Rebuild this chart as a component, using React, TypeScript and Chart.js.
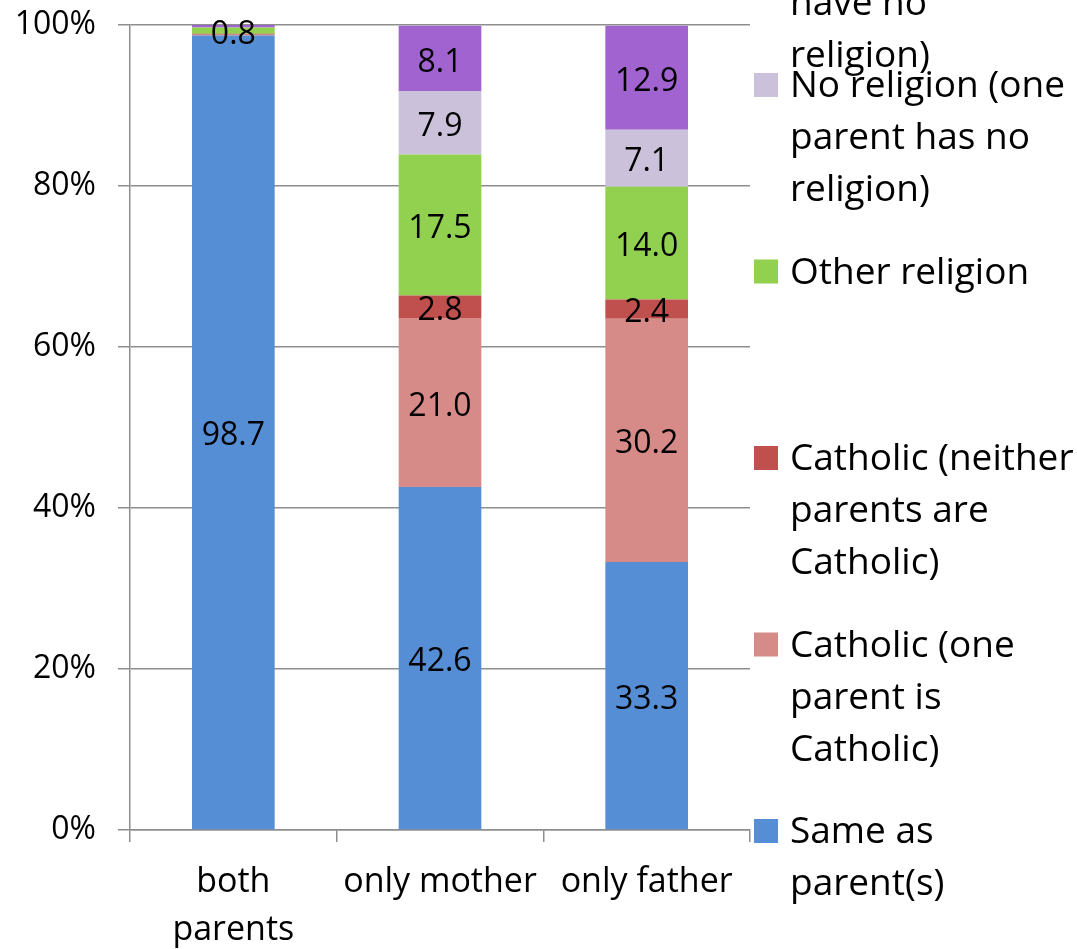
import React, { useEffect, useRef } from "react";
import { Chart, registerables } from "chart.js";

Chart.register(...registerables);

const categories: (string | string[])[] = [["both", "parents"], "only mother", "only father"];

const seriesNames = [
  "Same as parent(s)",
  "Catholic (one parent is Catholic)",
  "Catholic (neither parents are Catholic)",
  "Other religion",
  "No religion (one parent has no religion)",
  "No religion (both parents have no religion)",
];

const legendLines: string[][] = [
  ["Same as", "parent(s)"],
  ["Catholic (one", "parent is", "Catholic)"],
  ["Catholic (neither", "parents are", "Catholic)"],
  ["Other religion"],
  ["No religion (one", "parent has no", "religion)"],
  ["No religion", "(both parents", "have no", "religion)"],
];

const sameAsParents = [98.7, 42.6, 33.3];
const catholicOne = [0.1, 21.0, 30.2];
const catholicNeither = [0.1, 2.8, 2.4];
const otherReligion = [0.8, 17.5, 14.0];
const noReligionOne = [0.0, 7.9, 7.1];
const noReligionBoth = [0.3, 8.1, 12.9];

const seriesValues = [sameAsParents, catholicOne, catholicNeither, otherReligion, noReligionOne, noReligionBoth];
const seriesColors = ["#558ED5", "#D78B89", "#C0504D", "#92D050", "#CCC1DA", "#A063D0"];

const yTicks = [0, 20, 40, 60, 80, 100];

const FONT = "'Open Sans', sans-serif";
const GRID = "#8E8E8E";

export default function App() {
  const ref = useRef<HTMLCanvasElement | null>(null);

  useEffect(() => {
    document.body.style.margin = "0";
    const canvas = ref.current;
    if (!canvas) return;

    const labelPlugin = {
      id: "segLabels",
      afterDatasetsDraw(chart: any) {
        const ctx = chart.ctx;
        ctx.save();
        ctx.font = `32px ${FONT}`;
        ctx.fillStyle = "#000";
        ctx.textAlign = "center";
        ctx.textBaseline = "middle";
        chart.data.datasets.forEach((ds: any, di: number) => {
          const meta = chart.getDatasetMeta(di);
          meta.data.forEach((bar: any, i: number) => {
            const v = ds.data[i];
            if (v >= 0.5) {
              ctx.fillText(v.toFixed(1), bar.x, (bar.y + bar.base) / 2 + 4);
            }
          });
        });
        ctx.restore();
      },
    };

    const legendPlugin = {
      id: "sideLegend",
      afterDraw(chart: any) {
        const ctx = chart.ctx;
        ctx.save();
        ctx.font = `37px ${FONT}`;
        ctx.textAlign = "left";
        ctx.textBaseline = "alphabetic";
        chart.data.datasets.forEach((ds: any, di: number) => {
          const base = 843 - di * 186.5;
          ctx.fillStyle = ds.backgroundColor;
          ctx.fillRect(754, base - 24, 24, 24);
          ctx.fillStyle = "#000";
          legendLines[di].forEach((line, li) => {
            ctx.fillText(line, 790, base + li * 52);
          });
        });
        ctx.restore();
      },
    };

    const chart = new Chart(canvas, {
      type: "bar",
      data: {
        labels: categories,
        datasets: seriesNames.map((name, i) => ({
          label: name,
          data: seriesValues[i],
          backgroundColor: seriesColors[i],
          borderWidth: 0,
          barPercentage: 0.4,
          categoryPercentage: 1,
        })),
      },
      options: {
        animation: false,
        responsive: false,
        devicePixelRatio: 1,
        layout: { padding: { left: 0, right: 327, top: 25, bottom: 0 } },
        plugins: { legend: { display: false }, tooltip: { enabled: false } },
        scales: {
          x: {
            stacked: true,
            grid: { drawOnChartArea: false, drawTicks: true, tickLength: 12, color: GRID, lineWidth: 1.5, offset: true },
            border: { display: true, color: GRID, width: 1.5 },
            ticks: { color: "#000", font: { family: FONT, size: 34, lineHeight: 1.4 }, padding: 17, maxRotation: 0, autoSkip: false },
            afterFit(scale: any) {
              scale.height = 119;
              scale.paddingLeft = 0;
              scale.paddingRight = 0;
            },
          },
          y: {
            stacked: true,
            min: 0,
            max: 100,
            afterBuildTicks(scale: any) {
              scale.ticks = yTicks.map((v) => ({ value: v }));
            },
            grid: { color: GRID, lineWidth: 1.5, tickLength: 12, drawTicks: true },
            border: { display: true, color: GRID, width: 1.5 },
            ticks: {
              color: "#000",
              font: { family: FONT, size: 32 },
              padding: 22,
              callback: (v: any) => `${v}%`,
            },
            afterFit(scale: any) {
              scale.width = 130;
              scale.paddingTop = 0;
              scale.paddingBottom = 0;
            },
          },
        },
      },
      plugins: [labelPlugin, legendPlugin],
    });

    return () => chart.destroy();
  }, []);

  return (
    <div style={{ width: 1077, height: 949, overflow: "hidden" }}>
      <canvas ref={ref} width={1077} height={949} style={{ display: "block" }} />
    </div>
  );
}
